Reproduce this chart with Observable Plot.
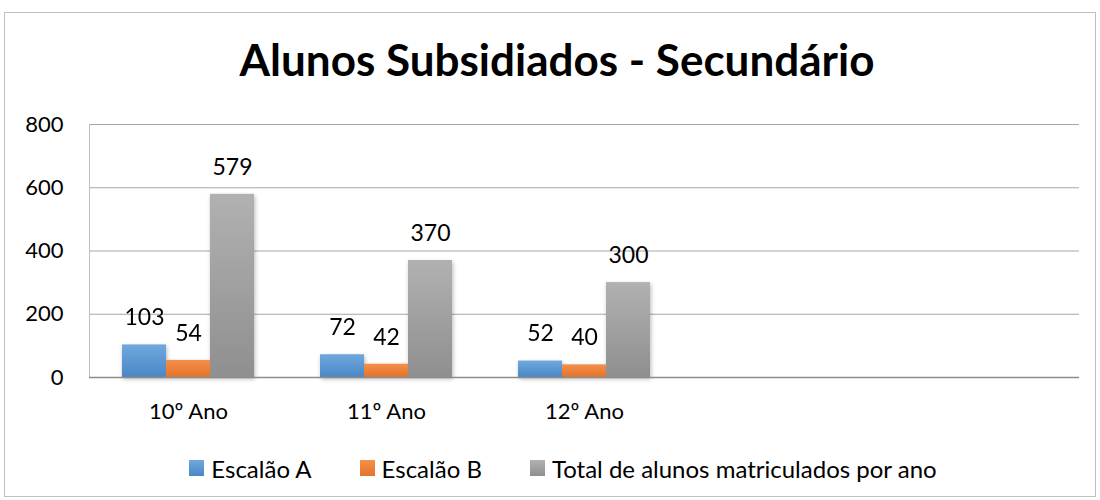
<!DOCTYPE html>
<html><head><meta charset="utf-8">
<script src="https://cdn.jsdelivr.net/npm/d3@7"></script>
<script src="https://cdn.jsdelivr.net/npm/@observablehq/plot@0.6"></script>
<style>
body{margin:0;background:#fff;}
#chart{position:relative;width:1100px;height:500px;overflow:hidden;font-family:Lato,"Open Sans",sans-serif;color:#000;}
#border{position:absolute;left:4px;top:12px;width:1092px;height:485px;border:1px solid #bfbfbf;box-sizing:border-box;pointer-events:none;}
#title{height:100px;box-sizing:border-box;padding-top:37px;padding-left:14px;text-align:center;font-weight:700;font-size:44px;line-height:44px;white-space:nowrap;}
#plot{height:340px;}
#plot svg{display:block;}
#legend{display:flex;justify-content:center;align-items:center;height:56px;padding-left:26px;font-size:24px;white-space:nowrap;}
.item{display:flex;align-items:center;margin:0 24px;}
.sw{width:15px;height:16px;margin-right:7px;}
</style></head><body>
<div id="chart"><div id="border"></div><div id="title">Alunos Subsidiados - Secundário</div><div id="plot"></div><div id="legend"></div></div>
<script>
const categories = ["10º Ano", "11º Ano", "12º Ano"];
const emptySlots = [" ", "  "];
const series = ["Escalão A", "Escalão B", "Total de alunos matriculados por ano"];
const escalaoA = [103, 72, 52];
const escalaoB = [54, 42, 40];
const totalAlunos = [579, 370, 300];
const yTicks = [0, 200, 400, 600, 800];
const colorTop = ["#70a8de", "#f4904c", "#b1b1b1"];
const colorBottom = ["#4a87c6", "#e2732a", "#8f8f8f"];

const values = [escalaoA, escalaoB, totalAlunos];
const rows = categories.flatMap((c, i) => series.map((s, j) => ({cat: c, series: s, value: values[j][i]})));
// empty category slots on the axis (no values), kept so the facets are drawn
const slotRows = rows.concat(emptySlots.map(c => ({cat: c, series: series[0], value: null})));
const gradIds = series.map((s, j) => "grad" + j);

const plot = Plot.plot({
  width: 1100, height: 340,
  marginTop: 24, marginBottom: 63, marginLeft: 88, marginRight: 20,
  style: {fontFamily: "Lato, 'Open Sans', sans-serif", fontSize: "22px", color: "#000", background: "transparent", overflow: "visible"},
  fx: {domain: [...categories, ...emptySlots], padding: 0, axis: "bottom", tickSize: 0, tickPadding: 26, label: null},
  x: {domain: series, paddingInner: 0, paddingOuter: 0.739, axis: null},
  y: {domain: [0, 800], ticks: yTicks, tickSize: 0, tickPadding: 26, label: null},
  color: {domain: series, range: gradIds.map(id => `url(#${id})`)},
  marks: [
    Plot.ruleY(yTicks.slice(1), {stroke: "#a6a6a6", strokeWidth: 1}),
    Plot.frame({anchor: "left", facetAnchor: "left", stroke: "#bfbfbf"}),
    Plot.barY(slotRows, {fx: "cat", x: "series", y: "value", fill: "series", inset: 0}),
    Plot.ruleY([0], {stroke: "#8c8c8c", strokeWidth: 1.5}),
    Plot.text(rows, {fx: "cat", x: "series", y: "value", text: "value", dy: -27, fill: "#000", fontSize: 23})
  ]
});

const svg = d3.select(plot);
const defs = svg.insert("defs", ":first-child");
gradIds.forEach((id, j) => {
  const g = defs.append("linearGradient").attr("id", id).attr("x1", 0).attr("y1", 0).attr("x2", 0).attr("y2", 1);
  g.append("stop").attr("offset", "0%").attr("stop-color", colorTop[j]);
  g.append("stop").attr("offset", "100%").attr("stop-color", colorBottom[j]);
});
svg.selectAll("g[aria-label='bar']").style("filter", "drop-shadow(1px 2px 2px rgba(0,0,0,0.28))");
document.getElementById("plot").appendChild(plot);

const legend = d3.select("#legend");
series.forEach((s, j) => {
  const it = legend.append("div").attr("class", "item");
  it.append("div").attr("class", "sw").style("background", `linear-gradient(${colorTop[j]}, ${colorBottom[j]})`);
  it.append("span").text(s);
});
</script>
</body></html>
